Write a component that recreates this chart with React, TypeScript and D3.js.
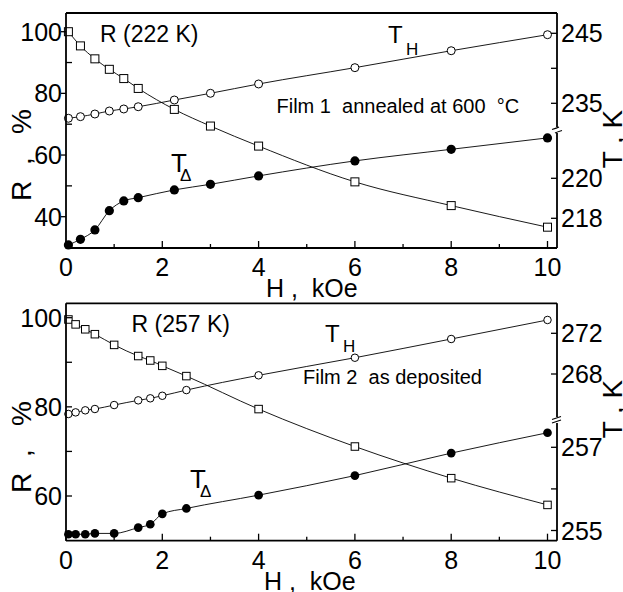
import React from 'react'
import * as d3 from 'd3'

const FONT = 'Liberation Sans, Arial, Helvetica, sans-serif'

// Film 1, annealed at 600 C  (R at 222 K)
const h1 = [0.05, 0.3, 0.6, 0.9, 1.2, 1.5, 2.25, 3, 4, 6, 8, 10]
const r1 = [100, 95.4, 91.2, 87.8, 84.8, 81.6, 74.8, 69.4, 62.9, 51.3, 43.6, 36.6]
const tH1 = [232.86, 233.09, 233.47, 233.9, 234.19, 234.51, 235.47, 236.43, 237.76, 240.09, 242.51, 244.8]
const tD1 = [216.67, 216.95, 217.42, 218.38, 218.87, 219.03, 219.42, 219.7, 220.12, 220.87, 221.45, 222.02]

// Film 2, as deposited  (R at 257 K)
const h2 = [0.05, 0.2, 0.4, 0.6, 1, 1.5, 1.75, 2, 2.5, 4, 6, 8, 10]
const r2 = [99.6, 98.5, 97.4, 96.3, 93.9, 91.4, 90.4, 89.2, 86.9, 79.5, 71.1, 64.0, 58.0]
const tH2 = [264.07, 264.23, 264.43, 264.56, 264.95, 265.41, 265.61, 265.86, 266.42, 267.87, 269.6, 271.44, 273.31]
const tD2 = [254.91, 254.91, 254.91, 254.93, 254.93, 255.07, 255.15, 255.4, 255.53, 255.85, 256.32, 256.86, 257.35]

const xMajor = [0, 2, 4, 6, 8, 10]
const xMinor = [1, 3, 5, 7, 9]
const rMajor1 = [40, 60, 80, 100]
const rMinor1 = [50, 70, 90]
const rMajor2 = [60, 80, 100]
const rMinor2 = [70, 90]

const x = d3.scaleLinear().domain([0, 10]).range([66, 547.5])
const X0 = 66
const X1 = 557

type Seg = { scale: d3.ScaleLinear<number, number>; y0: number; y1: number; major: number[]; minor: number[] }

function Panel(props: {
  top: number; bottom: number; r: d3.ScaleLinear<number, number>
  rMajor: number[]; rMinor: number[]; leftOut: boolean
  hs: number[]; rs: number[]; ths: number[]; tds: number[]
  upper: Seg; lower: Seg; breakKind: 'curve' | 'slash'; mk: number
}) {
  const { top, bottom, r, upper, lower, hs, mk } = props
  const lineR = d3.line<number>().x((_, i) => x(hs[i])).y(v => r(v)).curve(d3.curveMonotoneX)
  const lineH = d3.line<number>().x((_, i) => x(hs[i])).y(v => upper.scale(v)).curve(d3.curveMonotoneX)
  const lineD = d3.line<number>().x((_, i) => x(hs[i])).y(v => lower.scale(v)).curve(d3.curveMonotoneX)
  const brk = (upper.y1 + lower.y0) / 2
  return (
    <g>
      {/* data */}
      <path d={lineR(props.rs) || ''} fill="none" stroke="#000" strokeWidth={0.9} />
      <path d={lineH(props.ths) || ''} fill="none" stroke="#000" strokeWidth={0.9} />
      <path d={lineD(props.tds) || ''} fill="none" stroke="#000" strokeWidth={0.9} />
      {props.rs.map((v, i) => (
        <rect key={'s' + i} x={x(hs[i]) - mk / 2} y={r(v) - mk / 2} width={mk} height={mk}
          fill="#fff" stroke="#000" strokeWidth={1} />
      ))}
      {props.ths.map((v, i) => (
        <circle key={'o' + i} cx={x(hs[i])} cy={upper.scale(v)} r={mk / 2} fill="#fff" stroke="#000" strokeWidth={1} />
      ))}
      {props.tds.map((v, i) => (
        <circle key={'f' + i} cx={x(hs[i])} cy={lower.scale(v)} r={mk / 2 + 0.6} fill="#000" />
      ))}

      {/* frame */}
      <g stroke="#000" strokeWidth={1.8} fill="none">
        <line x1={X0} x2={X1} y1={top} y2={top} />
        <line x1={X0} x2={X1} y1={bottom} y2={bottom} />
        <line x1={X0} x2={X0} y1={top} y2={bottom} />
        <line x1={X1} x2={X1} y1={upper.y0} y2={upper.y1} />
        <line x1={X1} x2={X1} y1={lower.y0} y2={lower.y1} />
      </g>
      {props.breakKind === 'curve' ? (
        <g stroke="#000" strokeWidth={1.3} fill="none">
          <path d={`M${X1 - 5},${brk - 0.5} Q${X1},${brk - 2} ${X1 + 2},${brk - 3}`} />
          <path d={`M${X1 - 2},${brk + 3} Q${X1},${brk + 2} ${X1 + 5},${brk + 0.5}`} />
        </g>
      ) : (
        <g stroke="#000" strokeWidth={1.3}>
          <line x1={X1 - 5} y1={brk - 0.5} x2={X1 + 4} y2={brk - 3.5} />
          <line x1={X1 - 5} y1={brk + 3} x2={X1 + 4} y2={brk} />
        </g>
      )}

      {/* x ticks */}
      <g stroke="#000" strokeWidth={1.3}>
        {xMajor.map(t => <line key={'xm' + t} x1={x(t)} x2={x(t)} y1={bottom} y2={bottom - 7} />)}
        {xMinor.map(t => <line key={'xn' + t} x1={x(t)} x2={x(t)} y1={bottom} y2={bottom - 4} />)}
        {props.rMajor.map(t => (
          <line key={'lm' + t} x1={X0} x2={props.leftOut ? X0 - 5 : X0 + 6} y1={r(t)} y2={r(t)} />
        ))}
        {props.rMinor.map(t => <line key={'ln' + t} x1={X0} x2={X0 + 6} y1={r(t)} y2={r(t)} />)}
        {[upper, lower].map((s, k) => (
          <g key={'seg' + k}>
            {s.major.concat(s.minor).map(t => (
              <line key={t} x1={X1} x2={X1 - 6} y1={s.scale(t)} y2={s.scale(t)} />
            ))}
          </g>
        ))}
      </g>
      <g fontFamily={FONT} fontSize={25} fill="#000">
        {xMajor.map(t => (
          <text key={t} x={x(t)} y={bottom + 28} textAnchor="middle">{t}</text>
        ))}
        {props.rMajor.map(t => (
          <text key={t} x={62} y={r(t) + 9} textAnchor="end">{t}</text>
        ))}
        {[upper, lower].map((s, k) => (
          <g key={'lab' + k}>
            {s.major.map(t => <text key={t} x={561} y={s.scale(t) + 9}>{t}</text>)}
          </g>
        ))}
      </g>
    </g>
  )
}

export default function App() {
  const r1s = d3.scaleLinear().domain([40, 100]).range([216.7, 31.7])
  const r2s = d3.scaleLinear().domain([60, 100]).range([496, 317.7])
  const up1: Seg = { scale: d3.scaleLinear().domain([235, 245]).range([103.3, 33.3]), y0: 13, y1: 127, major: [235, 245], minor: [240] }
  const lo1: Seg = { scale: d3.scaleLinear().domain([218, 220]).range([218.3, 178.3]), y0: 133, y1: 248, major: [218, 220], minor: [] }
  const up2: Seg = { scale: d3.scaleLinear().domain([268, 272]).range([374, 333.3]), y0: 303.3, y1: 417, major: [268, 272], minor: [] }
  const lo2: Seg = { scale: d3.scaleLinear().domain([255, 257]).range([530.5, 447.3]), y0: 423, y1: 540.7, major: [255, 257], minor: [256] }

  const txt = { fontFamily: FONT, fill: '#000' }
  return (
    <svg width={623} height={592} style={{ position: 'absolute', left: 0, top: 0, background: '#fff' }}>
      <rect width={623} height={592} fill="#fff" />
      <Panel top={13} bottom={248} r={r1s} rMajor={rMajor1} rMinor={rMinor1} leftOut
        hs={h1} rs={r1} ths={tH1} tds={tD1} upper={up1} lower={lo1} breakKind="curve" mk={8} />
      <Panel top={303.3} bottom={540.7} r={r2s} rMajor={rMajor2} rMinor={rMinor2} leftOut={false}
        hs={h2} rs={r2} ths={tH2} tds={tD2} upper={up2} lower={lo2} breakKind="slash" mk={7.5} />

      {/* top panel labels */}
      <text {...txt} x={100} y={41.5} fontSize={23}>R (222 K)</text>
      <text {...txt} x={388} y={43} fontSize={24}>T</text>
      <text {...txt} x={406} y={55} fontSize={17}>H</text>
      <text {...txt} x={276.5} y={113.3} fontSize={20} style={{ whiteSpace: 'pre' }}>Film 1  annealed at 600  °C</text>
      <text {...txt} x={171} y={171.7} fontSize={26}>T</text>
      <text {...txt} x={180} y={181} fontSize={17}>Δ</text>
      <text {...txt} x={266} y={297} fontSize={25} style={{ whiteSpace: 'pre' }}>H ,  kOe</text>
      <text {...txt} fontSize={28} textAnchor="middle" transform="translate(31,155) rotate(-90)" style={{ whiteSpace: 'pre' }}>R  ,   %</text>
      <text {...txt} fontSize={28} textAnchor="middle" transform="translate(622,139) rotate(-90)" style={{ whiteSpace: 'pre' }}>T , K</text>

      {/* bottom panel labels */}
      <text {...txt} x={131.5} y={331.7} fontSize={23}>R (257 K)</text>
      <text {...txt} x={325} y={341.7} fontSize={24}>T</text>
      <text {...txt} x={343} y={352} fontSize={17}>H</text>
      <text {...txt} x={303} y={384} fontSize={20} style={{ whiteSpace: 'pre' }}>Film 2  as deposited</text>
      <text {...txt} x={190} y={488} fontSize={26}>T</text>
      <text {...txt} x={200} y={497} fontSize={17}>Δ</text>
      <text {...txt} x={264} y={590} fontSize={25} style={{ whiteSpace: 'pre' }}>H ,  kOe</text>
      <text {...txt} fontSize={28} textAnchor="middle" transform="translate(31,447) rotate(-90)" style={{ whiteSpace: 'pre' }}>R  ,   %</text>
      <text {...txt} fontSize={28} textAnchor="middle" transform="translate(622,409) rotate(-90)" style={{ whiteSpace: 'pre' }}>T , K</text>
    </svg>
  )
}
